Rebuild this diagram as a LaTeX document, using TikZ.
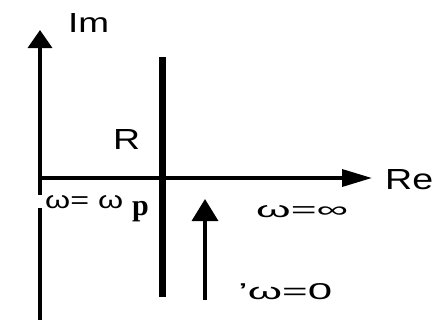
\documentclass[tikz,border=0pt]{standalone}
\usepackage{fontspec}
\setmainfont{Liberation Sans}
\newfontfamily\pserif{Liberation Serif}
\usetikzlibrary{arrows.meta}
\begin{document}
\begin{tikzpicture}[x=1pt,y=-1pt,
  axis/.style={line width=3.5pt},
  lbl/.style={inner sep=0pt, anchor=base west}]
\useasboundingbox (0,0) rectangle (444,325);
% coordinates
\coordinate (imbot) at (40,320);
\coordinate (imtop) at (40,30);
\coordinate (O) at (40,178);
\coordinate (retip) at (372,178);
\coordinate (Rtop) at (162,57);
\coordinate (Rbot) at (162,297);
\coordinate (up0) at (205,300);
\coordinate (up1) at (205,199);
% axes
\draw[axis,-{Triangle[length=18pt,width=24pt]}] (imbot) -- (imtop);
\draw[axis,-{Triangle[length=30pt,width=17pt]}] (O) -- (retip);
% line R
\draw[line width=7pt] (Rbot) -- (Rtop);
% arrow up
\draw[axis,-{Triangle[length=22pt,width=26pt]}] (up0) -- (up1);
% labels
\node[lbl] (im) at (68,32.5) {\resizebox{41pt}{19pt}{Im}};
\node[lbl] (re) at (385,189) {\resizebox{48pt}{20pt}{Re}};
\node[lbl] (rl) at (113,149) {\resizebox{27pt}{20pt}{R}};
\node[lbl] (winf) at (256,217) {\resizebox{92pt}{12pt}{ω=∞}};
\node[lbl] (wzero) at (238,299) {\resizebox{94pt}{16pt}{'ω=0}};
\node[lbl, fill=white, inner xsep=8pt, inner ysep=0pt] (wp) at (37,208) {\resizebox{78pt}{13pt}{ω= ω}};
\node[lbl] (pl) at (132,215) {\pserif\bfseries\fontsize{30}{30}\selectfont p};
\end{tikzpicture}
\end{document}
